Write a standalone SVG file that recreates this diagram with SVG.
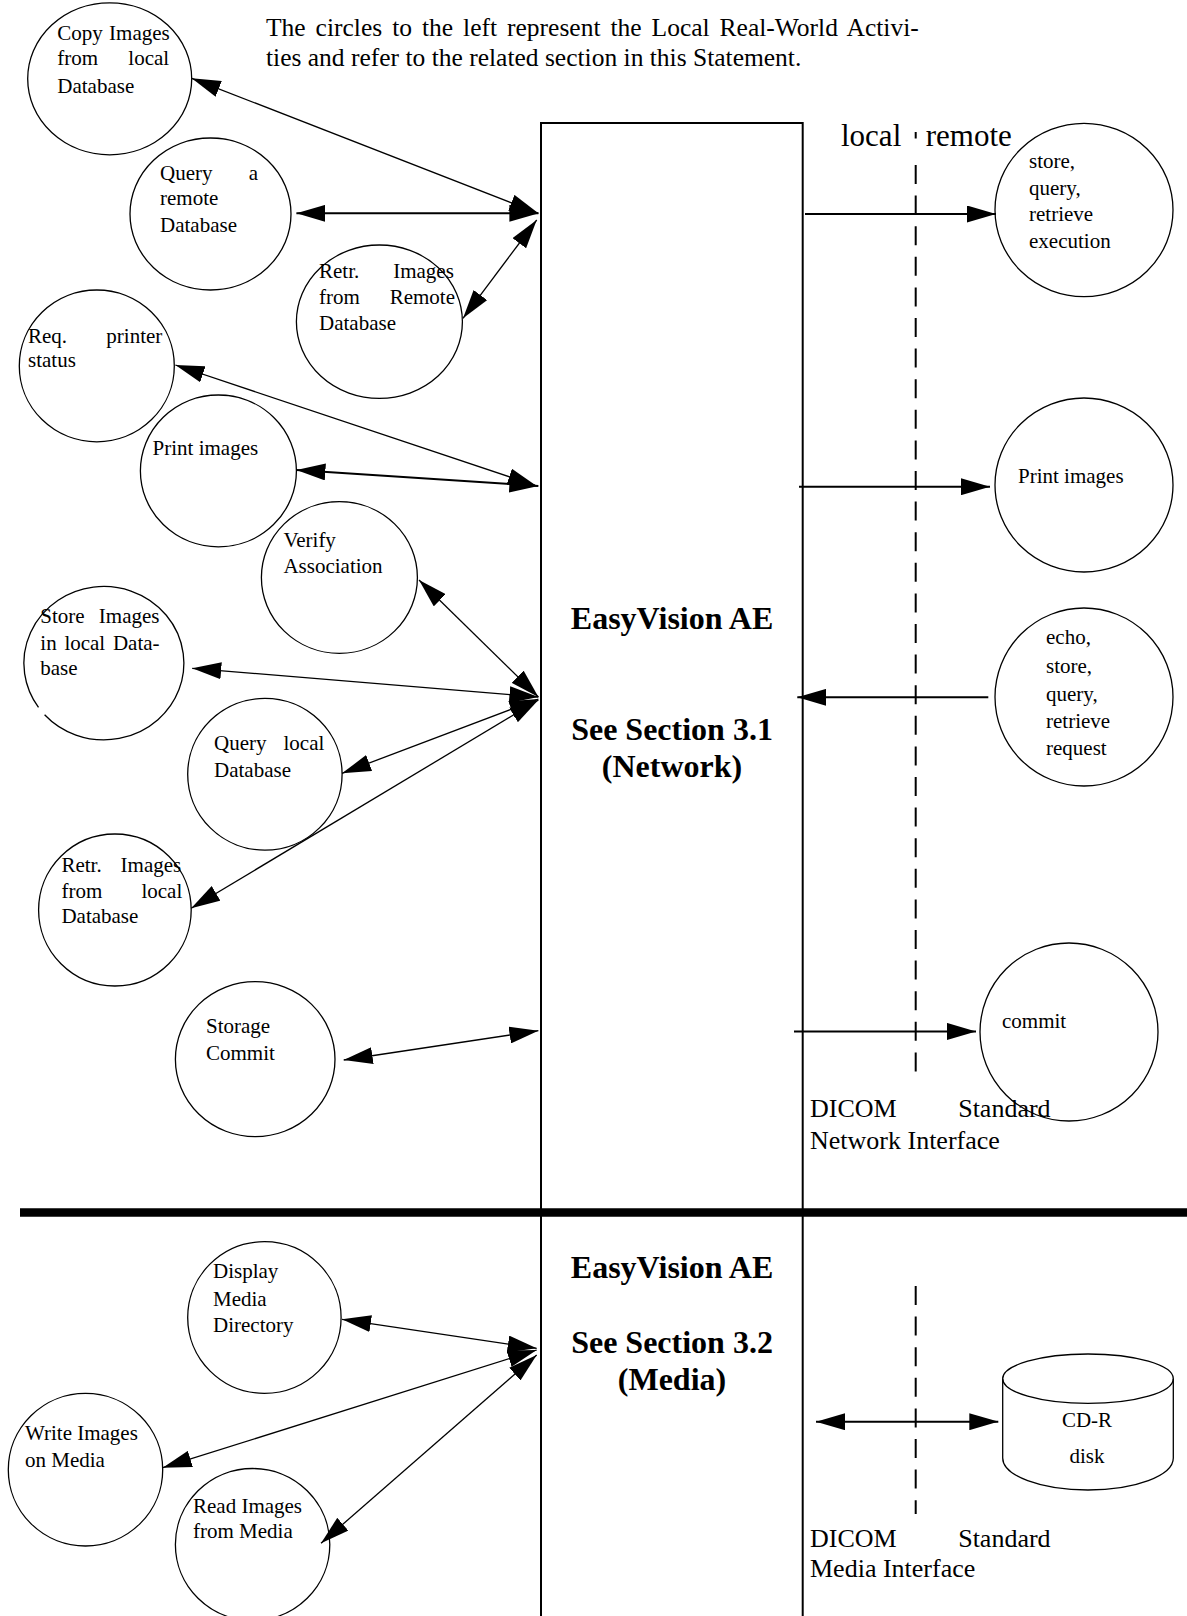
<svg xmlns="http://www.w3.org/2000/svg" width="1187" height="1616" viewBox="0 0 1187 1616">
<defs>
<style>
.c{fill:none;stroke:#000;stroke-width:1.3}
.t{font-family:"Liberation Serif","Times New Roman",serif;font-size:21px;fill:#000}
.big{font-family:"Liberation Serif","Times New Roman",serif;font-size:26px;fill:#000}
.hd{font-family:"Liberation Serif","Times New Roman",serif;font-size:25.5px;fill:#000}
.lr{font-family:"Liberation Serif","Times New Roman",serif;font-size:31px;fill:#000}
.b{font-family:"Liberation Serif","Times New Roman",serif;font-size:32px;font-weight:bold;fill:#000;text-anchor:middle}
.m{font-family:"Liberation Serif","Times New Roman",serif;font-size:21px;fill:#000;text-anchor:middle}
.thin{stroke:#000;stroke-width:1.3;fill:none}
.thick{stroke:#000;stroke-width:2;fill:none}
.dash{stroke:#000;stroke-width:2;stroke-dasharray:19 11.6;fill:none}
</style>
<marker id="ah" markerUnits="userSpaceOnUse" viewBox="0 0 29 17" markerWidth="29" markerHeight="17" refX="29" refY="8.5" orient="auto-start-reverse">
<path d="M0,0 L29,8.5 L0,17 z" fill="#000"/>
</marker>
</defs>
<rect width="1187" height="1616" fill="#fff"/>

<g id="header">
<text class="hd" x="266" y="36" word-spacing="3.6">The circles to the left represent the Local Real-World Activi-</text>
<text class="hd" x="266" y="66">ties and refer to the related section in this Statement.</text>
</g>

<g id="easyvision-ae">
<rect x="541" y="123" width="261.7" height="1600" fill="none" stroke="#000" stroke-width="2"/>
<text class="b" x="672" y="629">EasyVision AE</text>
<text class="b" x="672" y="740">See Section 3.1</text>
<text class="b" x="672" y="777">(Network)</text>
<text class="b" x="672" y="1278">EasyVision AE</text>
<text class="b" x="672" y="1353">See Section 3.2</text>
<text class="b" x="672" y="1390">(Media)</text>
</g>

<g id="divider">
<line x1="20" y1="1212.5" x2="1187" y2="1212.5" stroke="#000" stroke-width="8.3"/>
</g>

<g id="interface-boundaries">
<line x1="915.7" y1="132" x2="915.7" y2="138.5" class="thick"/>
<line x1="915.7" y1="165" x2="915.7" y2="1076" class="dash"/>
<line x1="915.7" y1="1286" x2="915.7" y2="1514" class="dash"/>
<text class="lr" x="841" y="146">local</text>
<text class="lr" x="925.7" y="146">remote</text>
<text class="big" x="810" y="1117" word-spacing="55">DICOM Standard</text>
<text class="big" x="810" y="1149">Network Interface</text>
<text class="big" x="810" y="1547" word-spacing="55">DICOM Standard</text>
<text class="big" x="810" y="1577">Media Interface</text>
</g>

<g id="copy-images-local">
<ellipse class="c" cx="109.7" cy="78.8" rx="82" ry="76"/>
<text class="t" x="57.3" y="40" word-spacing="1">Copy Images</text>
<text class="t" x="57.3" y="65" word-spacing="25">from local</text>
<text class="t" x="57.3" y="92.7">Database</text>
</g>

<g id="query-remote-db">
<ellipse class="c" cx="210.5" cy="214" rx="80.5" ry="76"/>
<text class="t" x="160" y="180" word-spacing="31">Query a</text>
<text class="t" x="160" y="205">remote</text>
<text class="t" x="160" y="232">Database</text>
</g>

<g id="retr-images-remote">
<ellipse class="c" cx="379.4" cy="321.7" rx="83" ry="76.7"/>
<text class="t" x="319" y="278" word-spacing="28.7">Retr. Images</text>
<text class="t" x="319" y="304" word-spacing="24.6">from Remote</text>
<text class="t" x="319" y="330">Database</text>
</g>

<g id="req-printer-status">
<ellipse class="c" cx="96.8" cy="365.9" rx="77.5" ry="75.9"/>
<text class="t" x="28" y="343" word-spacing="34">Req. printer</text>
<text class="t" x="28" y="367">status</text>
</g>

<g id="print-images-local">
<ellipse class="c" cx="218.4" cy="470.9" rx="78" ry="75.9"/>
<text class="t" x="152.6" y="455">Print images</text>
</g>

<g id="verify-association">
<ellipse class="c" cx="339.4" cy="577.5" rx="78" ry="75.8"/>
<text class="t" x="283.4" y="547">Verify</text>
<text class="t" x="283.4" y="573">Association</text>
</g>

<g id="store-images-local">
<path class="c" d="M38.5,707.4 A80,76.7 0 1 1 44.6,714.7"/>
<text class="t" x="40.3" y="623" word-spacing="9">Store Images</text>
<text class="t" x="40.3" y="650" word-spacing="2.5">in local Data-</text>
<text class="t" x="40.3" y="675">base</text>
</g>

<g id="query-local-db">
<ellipse class="c" cx="264.9" cy="774.2" rx="77.2" ry="75.9"/>
<text class="t" x="214" y="750" word-spacing="11.8">Query local</text>
<text class="t" x="214" y="777">Database</text>
</g>

<g id="retr-images-local">
<ellipse class="c" cx="114.9" cy="910" rx="76.3" ry="76"/>
<text class="t" x="61.4" y="872" word-spacing="13.7">Retr. Images</text>
<text class="t" x="61.4" y="898" word-spacing="34">from local</text>
<text class="t" x="61.4" y="923">Database</text>
</g>

<g id="storage-commit">
<ellipse class="c" cx="255.2" cy="1059.2" rx="79.8" ry="77.5"/>
<text class="t" x="206" y="1033">Storage</text>
<text class="t" x="206" y="1060">Commit</text>
</g>

<g id="display-media-directory">
<ellipse class="c" cx="264.4" cy="1317.5" rx="76.7" ry="75.8"/>
<text class="t" x="213" y="1278">Display</text>
<text class="t" x="213" y="1306">Media</text>
<text class="t" x="213" y="1332">Directory</text>
</g>

<g id="write-images-media">
<ellipse class="c" cx="85.5" cy="1469.7" rx="77.2" ry="76.3"/>
<text class="t" x="25" y="1439.5">Write Images</text>
<text class="t" x="25" y="1466.5">on Media</text>
</g>

<g id="read-images-media">
<ellipse class="c" cx="252.6" cy="1544.5" rx="77.2" ry="76"/>
<text class="t" x="193" y="1513">Read Images</text>
<text class="t" x="193" y="1538">from Media</text>
</g>

<g id="remote-store-query-retrieve">
<ellipse class="c" cx="1084" cy="210" rx="89" ry="86.7"/>
<text class="t" x="1029" y="168">store,</text>
<text class="t" x="1029" y="195">query,</text>
<text class="t" x="1029" y="221">retrieve</text>
<text class="t" x="1029" y="248">execution</text>
</g>

<g id="remote-print-images">
<ellipse class="c" cx="1084" cy="485" rx="89" ry="87"/>
<text class="t" x="1018" y="483">Print images</text>
</g>

<g id="remote-requests">
<circle class="c" cx="1084" cy="697" r="89"/>
<text class="t" x="1046" y="644">echo,</text>
<text class="t" x="1046" y="673">store,</text>
<text class="t" x="1046" y="701">query,</text>
<text class="t" x="1046" y="728">retrieve</text>
<text class="t" x="1046" y="755">request</text>
</g>

<g id="remote-commit">
<circle class="c" cx="1069" cy="1032" r="89"/>
<text class="t" x="1002" y="1028">commit</text>
</g>

<g id="cd-r-disk">
<ellipse class="c" cx="1088" cy="1378.7" rx="85.3" ry="24.7"/>
<path class="c" d="M1002.7,1378.7 V1458 A85.3,32 0 0 0 1173.3,1458 V1378.7"/>
<text class="m" x="1087" y="1427">CD-R</text>
<text class="m" x="1087" y="1463">disk</text>
</g>

<g id="connectors">
<line class="thin" x1="191.7" y1="78.3" x2="538.4" y2="213.3" marker-start="url(#ah)" marker-end="url(#ah)"/>
<line class="thick" x1="296.4" y1="213.3" x2="538.4" y2="213.3" marker-start="url(#ah)" marker-end="url(#ah)"/>
<line class="thin" x1="536.7" y1="220" x2="463" y2="318.3" marker-start="url(#ah)" marker-end="url(#ah)"/>
<line class="thin" x1="175.4" y1="365" x2="536.7" y2="486" marker-start="url(#ah)" marker-end="url(#ah)"/>
<line class="thick" x1="296.4" y1="470" x2="538.4" y2="486" marker-start="url(#ah)" marker-end="url(#ah)"/>
<line class="thin" x1="419" y1="580" x2="538.4" y2="697" marker-start="url(#ah)" marker-end="url(#ah)"/>
<line class="thin" x1="192.2" y1="668.3" x2="538.4" y2="697" marker-start="url(#ah)" marker-end="url(#ah)"/>
<line class="thin" x1="538.4" y1="699" x2="342" y2="773.3" marker-start="url(#ah)" marker-end="url(#ah)"/>
<line class="thin" x1="538.4" y1="700" x2="191.2" y2="908.3" marker-start="url(#ah)" marker-end="url(#ah)"/>
<line class="thin" x1="343.7" y1="1060" x2="538.4" y2="1030.7" marker-start="url(#ah)" marker-end="url(#ah)"/>
<line class="thin" x1="342" y1="1319.3" x2="536.7" y2="1348.3" marker-start="url(#ah)" marker-end="url(#ah)"/>
<line class="thin" x1="536.7" y1="1350" x2="162.7" y2="1467.7" marker-start="url(#ah)" marker-end="url(#ah)"/>
<line class="thin" x1="536.7" y1="1355" x2="321" y2="1543.3" marker-start="url(#ah)" marker-end="url(#ah)"/>
<line class="thick" x1="805" y1="214" x2="996" y2="214" marker-end="url(#ah)"/>
<line class="thick" x1="799" y1="486.7" x2="990" y2="486.7" marker-end="url(#ah)"/>
<line class="thick" x1="988.3" y1="697.3" x2="797.3" y2="697.3" marker-end="url(#ah)"/>
<line class="thick" x1="794" y1="1031.4" x2="976" y2="1031.4" marker-end="url(#ah)"/>
<line class="thick" x1="816" y1="1421.7" x2="998.3" y2="1421.7" marker-start="url(#ah)" marker-end="url(#ah)"/>
</g>
</svg>
